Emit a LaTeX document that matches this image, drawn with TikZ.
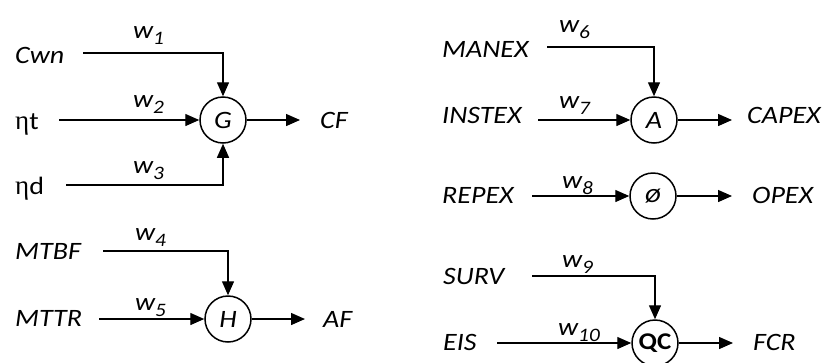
\documentclass[tikz,border=0pt]{standalone}
\usepackage{fontspec}
\setmainfont{Carlito}[FakeStretch=1.12]
\newfontfamily\etafont{Liberation Serif}
\usetikzlibrary{arrows.meta}

% weight label: italic w with a lowered index
\newcommand{\wsub}[1]{w\raisebox{-6pt}{\fontsize{19}{19}\selectfont #1}}
% efficiency label: upright serif eta followed by an upright letter
\newcommand{\etalbl}[1]{{\etafont\upshape\fontsize{27}{30}\selectfont η}{\upshape #1}}

\begin{document}
\begin{tikzpicture}[x=1pt,y=-1pt,
  txt/.style={anchor=base west,inner sep=0pt,font=\fontsize{25}{28}\selectfont\itshape},
  wlbl/.style={anchor=base west,inner sep=0pt,font=\fontsize{25}{28}\selectfont\itshape},
  op/.style={circle,draw,line width=1.5pt,minimum size=46pt,inner sep=0pt,
             font=\fontsize{25}{28}\selectfont\itshape},
  conn/.style={line width=1.4pt,-{Triangle[length=14pt,width=12pt]}},
]
\useasboundingbox (0,0) rectangle (822,362);

% ---------- operators ----------
\node[op] (G) at (223,120) {G};
\node[op] (H) at (228,319) {H};
\node[op] (A) at (654,120) {A};
\node[op,font=\fontsize{27}{28}\selectfont\itshape] (O) at (653,196) {ø};
\node[op,font=\fontsize{24}{26}\selectfont\bfseries\upshape] (QC) at (655,343) {QC};

% ---------- input labels ----------
\node[txt] (cwn)    at (15,63)  {Cwn};
\node[txt] (etat)   at (15,129) {\etalbl{t}};
\node[txt] (etad)   at (15,194) {\etalbl{d}};
\node[txt] (mtbf)   at (15,259) {MTBF};
\node[txt] (mttr)   at (15,326) {MTTR};
\node[txt] (manex)  at (442,57)  {MANEX};
\node[txt] (instex) at (442,123) {INSTEX};
\node[txt] (repex)  at (442,203) {REPEX};
\node[txt] (surv)   at (443,284) {SURV};
\node[txt] (eis)    at (443,350) {EIS};

% ---------- output labels ----------
\node[txt] (cf)    at (320,128) {CF};
\node[txt] (af)    at (323,327) {AF};
\node[txt] (capex) at (747,123) {CAPEX};
\node[txt] (opex)  at (752,203) {OPEX};
\node[txt] (fcr)   at (753,350) {FCR};

% ---------- weights ----------
\node[wlbl] (w1)  at (133,38)  {\wsub{1}};
\node[wlbl] (w2)  at (133,107) {\wsub{2}};
\node[wlbl] (w3)  at (133,173) {\wsub{3}};
\node[wlbl] (w4)  at (135,240) {\wsub{4}};
\node[wlbl] (w5)  at (135,310) {\wsub{5}};
\node[wlbl] (w6)  at (559,32)  {\wsub{6}};
\node[wlbl] (w7)  at (559,108) {\wsub{7}};
\node[wlbl] (w8)  at (562,188) {\wsub{8}};
\node[wlbl] (w9)  at (562,267) {\wsub{9}};
\node[wlbl] (w10) at (558,335) {\wsub{10}};

% ---------- line starts and output tips ----------
\coordinate (cwnS)    at (83,53);
\coordinate (etatS)   at (59,120);
\coordinate (etadS)   at (66,185);
\coordinate (mtbfS)   at (103,251);
\coordinate (mttrS)   at (99,319);
\coordinate (manexS)  at (547,47);
\coordinate (instexS) at (538,120);
\coordinate (repexS)  at (532,196);
\coordinate (survS)   at (532,276);
\coordinate (eisS)    at (497,343);

\coordinate (cfT)    at (300,120);
\coordinate (afT)    at (305,319);
\coordinate (capexT) at (732,120);
\coordinate (opexT)  at (732,196);
\coordinate (fcrT)   at (733,343);

% ---------- connectors ----------
\draw[conn] (cwnS) -| (G.north);
\draw[conn] (etatS) -- (G.west);
\draw[conn] (etadS) -| (G.south);
\draw[conn] (G.east) -- (cfT);

\draw[conn] (mtbfS) -| (H.north);
\draw[conn] (mttrS) -- (H.west);
\draw[conn] (H.east) -- (afT);

\draw[conn] (manexS) -| (A.north);
\draw[conn] (instexS) -- (A.west);
\draw[conn] (A.east) -- (capexT);

\draw[conn] (repexS) -- (O.west);
\draw[conn] (O.east) -- (opexT);

\draw[conn] (survS) -| (QC.north);
\draw[conn] (eisS) -- (QC.west);
\draw[conn] (QC.east) -- (fcrT);
\end{tikzpicture}
\end{document}
